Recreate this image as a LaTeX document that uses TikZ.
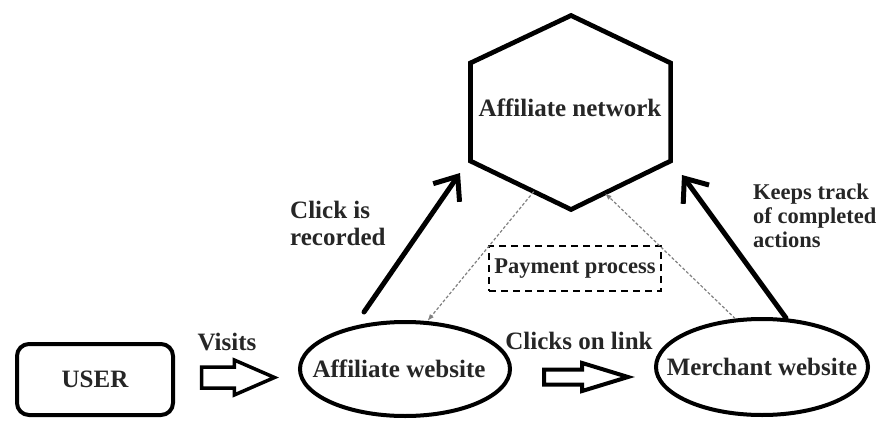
\documentclass[tikz,border=0pt]{standalone}
\usepackage{fontspec}
\setmainfont{Liberation Serif}
\usetikzlibrary{shapes.geometric,shapes.arrows,arrows.meta,calc}

\begin{document}
\begin{tikzpicture}[x=1pt,y=-1pt,
  txt/.style={text=black!85,font=\fontsize{25}{27}\selectfont\bfseries,inner sep=0pt},
  smalltxt/.style={text=black!85,font=\fontsize{22.5}{24}\selectfont\bfseries,inner sep=0pt},
  site/.style={draw,ellipse,line width=4pt,minimum width=210pt,minimum height=94pt,inner sep=0pt},
  bigarrow/.style={line width=5pt,line cap=round,-{Straight Barb[length=20pt,width=32pt]}},
  hollow/.style={draw,single arrow,line width=3.5pt,inner xsep=0pt,anchor=tail},
  payline/.style={gray,line width=1.2pt,dash pattern=on 3pt off 2pt,-{Latex[length=7pt,width=5pt]}}]
  \useasboundingbox (0,0) rectangle (880,420);
  % the network
  \coordinate (hexn) at (571,15.5);
  \coordinate (hexne) at (670.6,63);
  \coordinate (hexse) at (670.6,161);
  \coordinate (hexs) at (571,209.5);
  \coordinate (hexsw) at (470.4,161);
  \coordinate (hexnw) at (470.4,63);
  \draw[line width=4.7pt] (hexn) -- (hexne) -- (hexse) -- (hexs) -- (hexsw) -- (hexnw) -- cycle;
  \node[txt] (net) at (570,108) {Affiliate network};
  % bottom row
  \node[txt,draw,rounded corners=12pt,line width=4pt,minimum width=156pt,minimum height=71pt] (user) at (95,379.5) {USER};
  \node[site,label={[txt,xshift=-6pt]center:Affiliate website}] (aff) at (405,369) {};
  \node[site,minimum width=212pt,minimum height=96pt,label={[txt]center:Merchant website}] (mer) at (762,367) {};
  \node[hollow,minimum height=73pt,inner ysep=8.75pt,single arrow head extend=7pt,single arrow tip angle=47] (visitarrow) at (199.75,377.5) {};
  \node[hollow,line width=4pt,minimum height=84pt,inner ysep=5.5pt,single arrow head extend=6.5pt,single arrow tip angle=34] (clickarrow) at (542,377) {};
  \node[smalltxt,draw,line width=2pt,dash pattern=on 7pt off 5pt,minimum width=172pt,minimum height=45pt] (pay) at (575,268.5) {Payment process};
  % labels
  \node[txt] (visits) at (227,342) {Visits};
  \node[txt] (clicks) at (579,341) {Clicks on link};
  \node[txt,align=left,anchor=west] (recorded) at (290,223.5) {Click is\\recorded};
  \node[smalltxt,align=left,anchor=west] (track) at (753,216) {Keeps track\\of completed\\actions};
  % arrows
  \coordinate (recstart) at (364,312);
  \coordinate (recend) at (460,173);
  \coordinate (trackstart) at (786,318);
  \coordinate (trackend) at (682,175);
  \draw[bigarrow] (recstart) -- (recend);
  \draw[bigarrow] (trackstart) -- (trackend);
  \draw[payline] ($(hexsw)!0.63!(hexs)$) -- (aff.65);
  \draw[payline] (mer.119) -- ($(hexs)!0.34!(hexse)$);
\end{tikzpicture}
\end{document}
